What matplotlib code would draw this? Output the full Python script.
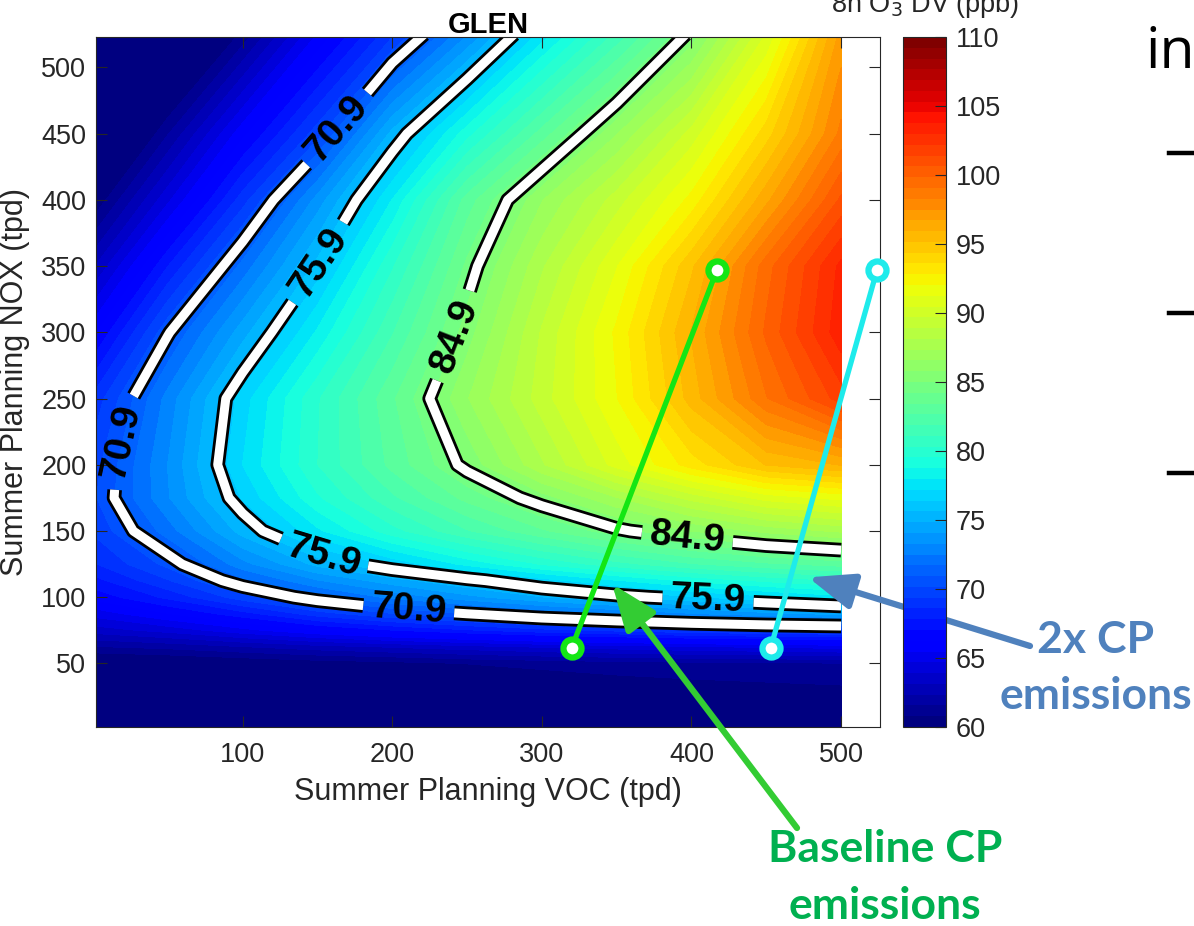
import numpy as np
import matplotlib
matplotlib.use("Agg")
import matplotlib.pyplot as plt
import matplotlib.patheffects as pe
from matplotlib.colors import ListedColormap, Normalize
from matplotlib.cm import ScalarMappable
from matplotlib.lines import Line2D

# ---------------- data ----------------
voc = [0, 50, 100, 150, 200, 250, 300, 350, 400, 450, 500]
nox = [0, 25, 50, 62.5, 75, 87.5, 100, 112.5, 125, 150, 175, 200, 250, 300, 350, 400, 450, 525]
o3_rows = [
    [56.0, 56.5, 57.0, 57.5, 58.0, 58.2, 58.4, 58.6, 58.8, 59.0, 59.0],
    [58.0, 58.3, 58.6, 59.0, 59.3, 59.6, 59.8, 60.0, 60.2, 60.3, 60.4],
    [59.5, 59.7, 60.0, 60.3, 60.5, 60.8, 61.0, 61.2, 61.3, 61.4, 61.5],
    [61.5, 61.8, 62.3, 62.8, 63.2, 63.6, 64.0, 64.3, 64.6, 64.8, 65.0],
    [63.5, 64.2, 65.2, 66.2, 67.0, 67.7, 68.3, 68.8, 69.2, 69.5, 69.7],
    [65.0, 66.2, 67.5, 69.0, 70.1, 70.9, 71.8, 72.5, 73.2, 73.8, 74.3],
    [66.5, 68.0, 69.8, 71.4, 72.7, 73.8, 74.8, 75.6, 76.3, 77.0, 77.7],
    [67.5, 69.3, 71.5, 73.2, 74.5, 75.6, 76.8, 77.9, 78.9, 79.7, 80.3],
    [68.5, 70.4, 73.0, 75.1, 76.6, 78.2, 79.6, 80.8, 81.8, 82.5, 83.0],
    [69.5, 72.1, 75.2, 77.8, 80.0, 81.8, 83.3, 84.7, 85.8, 86.8, 87.5],
    [70.0, 73.2, 76.5, 79.4, 81.7, 83.7, 85.4, 87.3, 89.2, 90.8, 91.5],
    [69.8, 73.3, 77.2, 80.3, 82.9, 85.2, 88.0, 90.8, 93.2, 95.2, 96.0],
    [68.8, 72.8, 76.8, 80.2, 83.3, 86.5, 89.3, 92.0, 95.5, 99.0, 101.8],
    [66.0, 70.8, 74.5, 78.1, 81.8, 85.4, 89.0, 92.2, 96.0, 100.0, 103.5],
    [63.0, 67.8, 72.0, 75.9, 80.2, 84.4, 88.0, 91.2, 95.0, 99.5, 103.2],
    [60.0, 64.5, 69.0, 73.6, 78.0, 83.0, 86.5, 89.3, 92.3, 96.5, 100.8],
    [57.0, 61.5, 66.0, 69.8, 75.1, 79.2, 83.0, 86.5, 90.0, 94.0, 98.5],
    [53.0, 57.0, 61.0, 65.5, 69.2, 73.2, 77.5, 81.3, 85.2, 90.5, 97.0],
]
contour_levels = [70.9, 75.9, 84.9]

baseline_voc = [320, 417]
baseline_nox = [62, 347]
double_voc = [453, 524]
double_nox = [62, 347]

cbar_ticks = [60, 65, 70, 75, 80, 85, 90, 95, 100, 105, 110]
x_ticks = [100, 200, 300, 400, 500]
y_ticks = [50, 100, 150, 200, 250, 300, 350, 400, 450, 500]

# ---------------- figure ----------------
plt.rcParams["font.family"] = ["Liberation Sans", "DejaVu Sans"]
W, H = 1194, 926
fig = plt.figure(figsize=(W / 100, H / 100), dpi=100)

ax = fig.add_axes([96 / W, 1 - 727 / H, 784 / W, 690 / H])
cax = fig.add_axes([903 / W, 1 - 727 / H, 43 / W, 690 / H])

jet = plt.get_cmap("jet")
cmap = ListedColormap(jet(np.linspace(0, 1, 64)))
cmap.set_under(jet(0.0))
norm = Normalize(60, 110)

Z = np.array(o3_rows)
ax.contourf(voc, nox, Z, levels=np.linspace(60, 110, 65), cmap=cmap, norm=norm, extend="min")

cs = ax.contour(voc, nox, Z, levels=contour_levels, colors="white", linewidths=6.5)
cs.set_linewidth(6.5)
cs.set_path_effects([pe.Stroke(linewidth=10.5, foreground="black"),
                     pe.Stroke(linewidth=6.5, foreground="white")])

label_pos = [(165, 452), (19, 217), (211, 91),
             (150, 353), (154, 131), (411, 97),
             (242, 297), (397, 143)]
with plt.rc_context({"font.weight": "bold"}):
    texts = ax.clabel(cs, manual=label_pos, inline=True, fmt="%.1f",
                      fontsize=28, colors="black", inline_spacing=10)

# scenario lines
ax.plot(baseline_voc, baseline_nox, "-o", color="#14E614", lw=3.8, ms=13,
        mfc="white", mec="#14E614", mew=4.5, zorder=6, clip_on=False)
ax.plot(double_voc, double_nox, "-o", color="#1EEBEB", lw=3.8, ms=13,
        mfc="white", mec="#1EEBEB", mew=4.5, zorder=6, clip_on=False)

ax.set_xlim(2, 526)
ax.set_ylim(2, 523)
ax.set_xticks(x_ticks)
ax.set_yticks(y_ticks)
ax.tick_params(direction="in", length=8, width=0.8, top=True, right=True,
               labelsize=19.5, color="0.15", labelcolor="0.15")
ax.tick_params(axis="x", pad=11)
ax.tick_params(axis="y", pad=7)
for s in ax.spines.values():
    s.set_color("0.15")
    s.set_linewidth(0.8)
ax.set_xlabel("Summer Planning VOC (tpd)", fontsize=22, color="0.15", labelpad=6)
ax.set_ylabel("Summer Planning NOX (tpd)", fontsize=22, color="0.15", labelpad=8)
ax.set_title("GLEN", fontsize=21, fontweight="bold", pad=3)

cb = fig.colorbar(ScalarMappable(norm=norm, cmap=cmap), cax=cax, ticks=cbar_ticks)
cax.tick_params(direction="in", length=8, width=0.8, labelsize=19.5,
                color="0.15", labelcolor="0.15", pad=7)
cb.outline.set_edgecolor("0.15")
cb.outline.set_linewidth(0.8)
fig.text(925 / W, 1 - 12 / H, "8h O$_3$ DV (ppb)", fontsize=19.5, color="0.15",
         ha="center", va="baseline")

# annotation arrows
ax.annotate("", xy=(478, 115), xycoords="data",
            xytext=(1030 / W, 1 - 646 / H), textcoords="figure fraction",
            arrowprops=dict(arrowstyle="-|>,head_length=1.4,head_width=0.55",
                            mutation_scale=20, lw=4.5, color="#4F81BD",
                            shrinkA=0, shrinkB=0),
            annotation_clip=False, zorder=8)
ax.annotate("", xy=(347, 110), xycoords="data",
            xytext=(797 / W, 1 - 828 / H), textcoords="figure fraction",
            arrowprops=dict(arrowstyle="-|>,head_length=1.4,head_width=0.55",
                            mutation_scale=20, lw=4.5, color="#33CC33",
                            shrinkA=0, shrinkB=0),
            annotation_clip=False, zorder=8)

lab_font = ["Lato", "DejaVu Sans"]
fig.text(1096 / W, 1 - 653 / H, "2x CP", fontsize=32, fontweight="bold",
         color="#4F81BD", ha="center", va="baseline", family=lab_font)
fig.text(1096 / W, 1 - 709 / H, "emissions", fontsize=32, fontweight="bold",
         color="#4F81BD", ha="center", va="baseline", family=lab_font)
fig.text(885 / W, 1 - 862 / H, "Baseline CP", fontsize=32, fontweight="bold",
         color="#00B050", ha="center", va="baseline", family=lab_font)
fig.text(885 / W, 1 - 919 / H, "emissions", fontsize=32, fontweight="bold",
         color="#00B050", ha="center", va="baseline", family=lab_font)

# slide fragments at the right edge
fig.text(1146 / W, 1 - 68 / H, "in", fontsize=41, color="black",
         ha="left", va="baseline", family=["Open Sans", "DejaVu Sans"])
for yy in [153, 313, 473]:
    fig.add_artist(Line2D([1169 / W, 1194 / W], [1 - yy / H, 1 - yy / H],
                          color="black", lw=3.2, transform=fig.transFigure))

fig.savefig("out.png", dpi=100)
